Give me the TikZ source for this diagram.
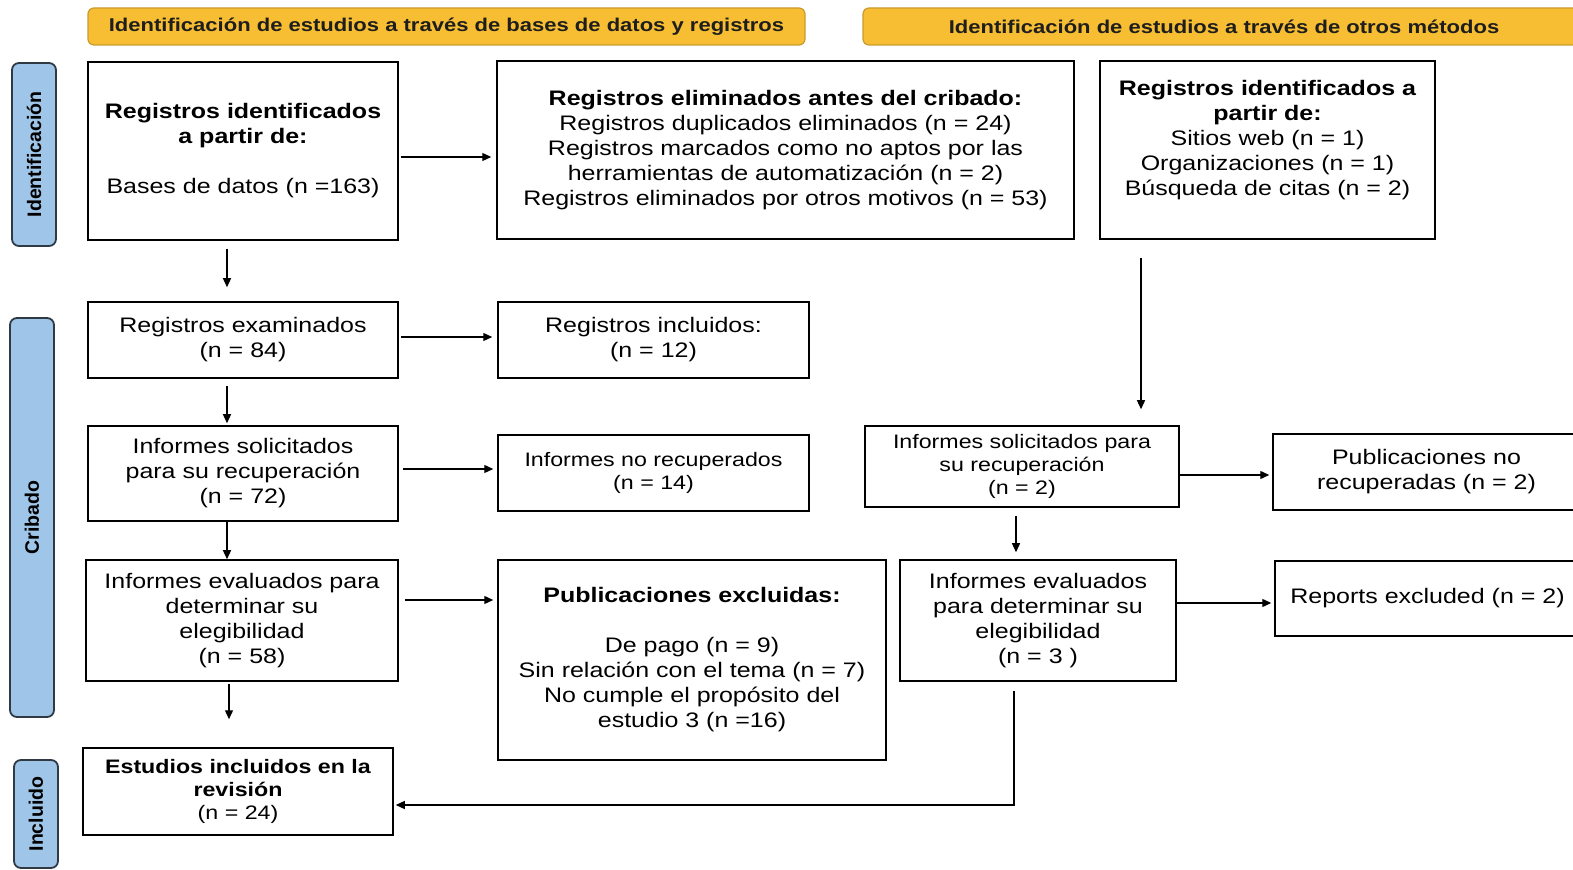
\documentclass[tikz,border=0pt]{standalone}
\usepackage{fontspec}
\setmainfont{Liberation Sans}[FakeStretch=1.19]
\newfontfamily\sidefont{Liberation Sans}
\usetikzlibrary{arrows.meta,calc}
\definecolor{hdrfill}{HTML}{F7BE34}
\definecolor{hdrline}{HTML}{C99A2C}
\definecolor{sidefill}{HTML}{9FC5E8}
\definecolor{sideline}{HTML}{2F3A45}
\definecolor{hdrtext}{HTML}{1E1E1E}
\newcommand\normalsz{\fontsize{10.5}{12.5}\selectfont}
\newcommand\smallsz{\fontsize{9.75}{11.5}\selectfont}
\begin{document}
\begin{tikzpicture}[x=0.5pt,y=-0.5pt,
  box/.style={draw=black, line width=0.75pt, align=center, inner sep=0pt, font=\normalsz},
  sbox/.style={box, font=\smallsz},
  hdr/.style={draw=hdrline, fill=hdrfill, line width=0.6pt, rounded corners=3pt, inner sep=0pt,
    text=hdrtext, font=\fontsize{9.25}{11}\selectfont\bfseries},
  side/.style={draw=sideline, fill=sidefill, line width=0.9pt, rounded corners=3.5pt, inner sep=0pt,
    rotate=90, font=\sidefont\fontsize{9.75}{11}\selectfont\bfseries},
  arr/.style={-{Triangle[length=4.5pt,width=4pt]}, line width=0.65pt}]
\useasboundingbox (0,0) rectangle (1573,870);

% headers
\node[hdr, minimum width=358.5pt, minimum height=18.5pt] (h1) at (446.5,26.5)
  {Identificación de estudios a través de bases de datos y registros};
\node[hdr, minimum width=361pt, minimum height=18.5pt] (h2) at (1224,26.5)
  {Identificación de estudios a través de otros métodos};

% side bars
\node[side, minimum width=91.5pt, minimum height=22pt] (s1) at (34,154.5) {Identificación};
\node[side, minimum width=199.5pt, minimum height=22pt] (s2) at (32,517.5) {Cribado};
\node[side, minimum width=54pt, minimum height=22pt] (s3) at (36,814) {Incluido};

% boxes
\node[box, minimum width=155pt, minimum height=89pt] (A) at (243,151)
  {\textbf{Registros identificados}\\\textbf{a partir de:}\\[12.5pt]Bases de datos (n =163)};
\node[box, minimum width=288.5pt, minimum height=89pt] (B) at (785.5,150)
  {\textbf{Registros eliminados antes del cribado:}\\Registros duplicados eliminados (n = 24)\\Registros marcados como no aptos por las\\herramientas de automatización (n = 2)\\Registros eliminados por otros motivos (n = 53)};
\node[box, minimum width=167.5pt, minimum height=89pt] (C) at (1267.5,150)
  {\textbf{Registros identificados a}\\\textbf{partir de:}\\Sitios web (n = 1)\\Organizaciones (n = 1)\\Búsqueda de citas (n = 2)\\\mbox{}};
\node[box, minimum width=155pt, minimum height=38pt] (D) at (243,340)
  {Registros examinados\\(n = 84)};
\node[box, minimum width=155.5pt, minimum height=38pt] (E) at (653.5,340)
  {Registros incluidos:\\(n = 12)};
\node[box, minimum width=155pt, minimum height=47.5pt] (F) at (243,473.5)
  {Informes solicitados\\para su recuperación\\(n = 72)};
\node[sbox, minimum width=155.5pt, minimum height=38pt] (G) at (653.5,473)
  {Informes no recuperados\\(n = 14)};
\node[sbox, minimum width=157pt, minimum height=40.5pt] (H) at (1022,466.5)
  {Informes solicitados para\\su recuperación\\(n = 2)};
\node[box, minimum width=153.5pt, minimum height=38pt] (I) at (1426.5,472)
  {Publicaciones no\\recuperadas (n = 2)};
\node[box, minimum width=156pt, minimum height=60.5pt] (J) at (242,620.5)
  {Informes evaluados para\\determinar su\\elegibilidad\\(n = 58)};
\node[box, minimum width=194pt, minimum height=100pt] (K) at (692,660)
  {\textbf{Publicaciones excluidas:}\\[12.5pt]De pago (n = 9)\\Sin relación con el tema (n = 7)\\No cumple el propósito del\\estudio 3 (n =16)};
\node[box, minimum width=138pt, minimum height=60.5pt] (L) at (1038,620.5)
  {Informes evaluados\\para determinar su\\elegibilidad\\(n = 3 )};
\node[box, minimum width=152.5pt, minimum height=37.5pt] (M) at (1427.5,598.5)
  {Reports excluded (n = 2)};
\node[sbox, minimum width=155pt, minimum height=43.5pt] (N) at (238,791.5)
  {\textbf{Estudios incluidos en la}\\\textbf{revisión}\\(n = 24)};

% connectors
\draw[arr, shorten <=1pt, shorten >=2.5pt] ([yshift=-3pt]A.east) -- ([yshift=-3pt]A.east -| B.west);
\draw[arr, shorten <=4pt, shorten >=7pt] ([xshift=-8pt]A.south) -- ([xshift=-8pt]A.south |- D.north);
\draw[arr, shorten <=1pt, shorten >=2.5pt] ([yshift=1.5pt]D.east) -- ([yshift=1.5pt]D.east -| E.west);
\draw[arr, shorten <=3.5pt, shorten >=1pt] ([xshift=-8pt]D.south) -- ([xshift=-8pt]D.south |- F.north);
\draw[arr, shorten <=2pt, shorten >=2pt] ([yshift=2.25pt]F.east) -- ([yshift=2.25pt]F.east -| G.west);
\draw[arr] ([xshift=-8pt]F.south) -- ([xshift=-8pt]F.south |- J.north);
\draw[arr, shorten <=3pt, shorten >=2pt] ([yshift=10.25pt]J.east) -- ([yshift=10.25pt]J.east -| K.west);
\draw[arr, shorten <=1pt, shorten >=14pt] ([xshift=-6.5pt]J.south) -- ([xshift=-6.5pt]J.south |- N.north);
\draw[arr, shorten <=9pt, shorten >=8pt] ([xshift=-63.25pt]C.south) -- ([xshift=-63.25pt]C.south |- H.north);
\draw[arr, shorten >=1.5pt] ([yshift=-4.25pt]H.east) -- ([yshift=-4.25pt]H.east -| I.west);
\draw[arr, shorten <=4pt, shorten >=3.5pt] ([xshift=-3pt]H.south) -- ([xshift=-3pt]H.south |- L.north);
\draw[arr, shorten >=1.5pt] ([yshift=8.75pt]L.east) -- ([yshift=8.75pt]L.east -| M.west);
\draw[arr, shorten <=4.5pt, shorten >=1pt] ([xshift=-12pt]L.south) |- ([yshift=-6.75pt]N.east);
\end{tikzpicture}
\end{document}
